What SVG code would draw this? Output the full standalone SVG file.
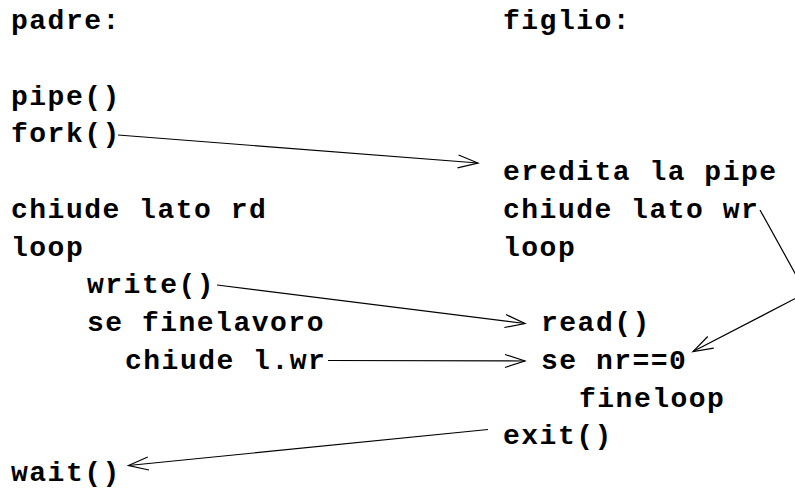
<svg xmlns="http://www.w3.org/2000/svg" width="795" height="488" viewBox="0 0 795 488">
  <defs>
    <style>
      text { font-family: "Liberation Mono", "Courier New", monospace; font-weight: bold; font-size: 28px; letter-spacing: 1.5px; fill: #000; }
      .conn { fill: none; stroke: #000; stroke-width: 1.2; marker-end: url(#open); }
    </style>
    <marker id="open" markerUnits="userSpaceOnUse" markerWidth="24" markerHeight="16" refX="20" refY="6.5" orient="auto" overflow="visible">
      <path d="M0,0 L20,6.5 L0,13" fill="none" stroke="#000" stroke-width="1.2"/>
    </marker>
  </defs>
  <rect width="795" height="488" fill="#fff"/>
  <g id="padre">
    <text x="11" y="29">padre:</text>
    <text x="11" y="104.5">pipe()</text>
    <text x="11" y="142.3">fork()</text>
    <text x="11" y="217.8">chiude lato rd</text>
    <text x="11" y="255.5">loop</text>
    <text x="87" y="293.3">write()</text>
    <text x="87" y="331">se finelavoro</text>
    <text x="125" y="368.8">chiude l.wr</text>
    <text x="11" y="481">wait()</text>
  </g>
  <g id="figlio">
    <text x="503" y="29">figlio:</text>
    <text x="503" y="180">eredita la pipe</text>
    <text x="503" y="217.8">chiude lato wr</text>
    <text x="503" y="255.5">loop</text>
    <text x="541" y="331">read()</text>
    <text x="541" y="368.8">se nr==0</text>
    <text x="579" y="406.5">fineloop</text>
    <text x="503" y="444.3">exit()</text>
  </g>
  <g id="connectors">
    <path class="conn" d="M118,135 L478,163"/>
    <path class="conn" d="M217,285 L525,323.5"/>
    <path class="conn" d="M328,360.5 L525,361"/>
    <path class="conn" d="M760,210 L806,293 L693,351.5"/>
    <path class="conn" d="M488,429.5 L128.5,465.5"/>
  </g>
</svg>
